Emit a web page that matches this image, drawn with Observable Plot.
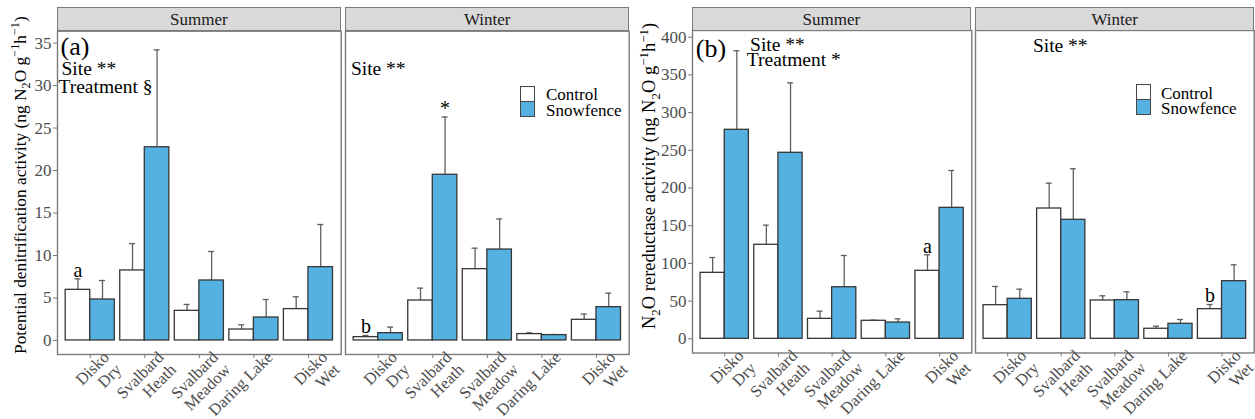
<!DOCTYPE html>
<html><head><meta charset="utf-8">
<script src="https://cdn.jsdelivr.net/npm/d3@7"></script>
<script src="https://cdn.jsdelivr.net/npm/@observablehq/plot@0.6"></script>
<style>
body{margin:0;background:#fff;}
#root{position:relative;width:1255px;height:419px;overflow:hidden;font-family:"Liberation Serif","Times New Roman",serif;}
#root svg{position:absolute;top:0;overflow:visible;}
.strip{position:absolute;background:#d9d9d9;border:1.3px solid #7a7a7a;box-sizing:border-box;text-align:center;font-size:17px;color:#1a1a1a;line-height:22px;padding-top:1px;}
.ytitle{position:absolute;white-space:nowrap;line-height:1;color:#000;transform-origin:0 0;transform:rotate(-90deg);}
.ytitle sub,.ytitle sup{font-size:70%;line-height:0;}
.lbox{position:absolute;width:15px;height:15.5px;box-sizing:border-box;border:1.2px solid #444;}
.ltext{position:absolute;font-size:17px;line-height:17px;white-space:nowrap;color:#000;}
</style></head><body><div id="root"></div><script>
// ---- categories ----
const sites = ["Disko Dry", "Svalbard Heath", "Svalbard Meadow", "Daring Lake", "Disko Wet"];
const siteLabels = ["Disko\nDry", "Svalbard\nHeath", "Svalbard\nMeadow", "Daring Lake", "Disko\nWet"];
const treatments = ["Control", "Snowfence"];
const treatmentColors = ["#ffffff", "#56b1e3"];
const seasons = ["Summer", "Winter"];

// ---- (a) Potential denitrification activity: mean and SE ----
const denitSummerControl = [5.96, 8.24, 3.49, 1.29, 3.69];
const denitSummerControlSE = [1.29, 3.16, 0.75, 0.55, 1.45];
const denitSummerSnow = [4.82, 22.74, 7.06, 2.70, 8.63];
const denitSummerSnowSE = [2.24, 11.46, 3.41, 2.12, 5.02];
const denitWinterControl = [0.39, 4.70, 8.39, 0.75, 2.43];
const denitWinterControlSE = [0.20, 1.46, 2.47, 0.15, 0.67];
const denitWinterSnow = [0.86, 19.50, 10.70, 0.63, 3.92];
const denitWinterSnowSE = [0.71, 6.80, 3.60, 0.07, 1.65];
const denitSummerControlSig = ["a", "", "", "", ""];
const denitSummerSnowSig = ["", "", "", "", ""];
const denitWinterControlSig = ["b", "", "", "", ""];
const denitWinterSnowSig = ["", "*", "", "", ""];
const denitTicks = [0, 5, 10, 15, 20, 25, 30, 35];

// ---- (b) N2O reductase activity: mean and SE ----
const redSummerControl = [87.5, 124.7, 26.5, 23.9, 90.2];
const redSummerControlSE = [20.3, 26.0, 10.1, 0.8, 21.2];
const redSummerSnow = [277.2, 246.7, 68.4, 21.6, 173.7];
const redSummerSnowSE = [104.8, 92.8, 42.1, 4.9, 49.5];
const redWinterControl = [44.6, 172.8, 50.8, 13.3, 39.3];
const redWinterControlSE = [24.8, 33.6, 6.2, 3.4, 6.2];
const redWinterSnow = [53.0, 157.8, 51.2, 19.9, 76.4];
const redWinterSnowSE = [12.8, 67.7, 11.1, 5.7, 21.7];
const redSummerControlSig = ["", "", "", "", "a"];
const redSummerSnowSig = ["", "", "", "", ""];
const redWinterControlSig = ["", "", "", "", "b"];
const redWinterSnowSig = ["", "", "", "", ""];
const redTicks = [0, 50, 100, 150, 200, 250, 300, 350, 400];

// ---- annotation texts ----
const annotA = {Summer: ["(a)", "Site **", "Treatment §"], Winter: ["Site **"]};
const annotB = {Summer: ["(b)", "Site **", "Treatment *"], Winter: ["Site **"]};
const titleA = 'Potential denitrification activity (ng N<sub>2</sub>O g<sup>−1</sup>h<sup>−1</sup>)';
const titleB = 'N<sub>2</sub>O rereductase activity (ng N<sub>2</sub>O g<sup>−1</sup>h<sup>−1</sup>)';

function buildRows(cm, cse, csig, sm, sse, ssig) {
  const rows = [];
  sites.forEach((s, i) => {
    rows.push({i, site: s, treatment: treatments[0], mean: cm[i], se: cse[i], sig: csig[i]});
    rows.push({i, site: s, treatment: treatments[1], mean: sm[i], se: sse[i], sig: ssig[i]});
  });
  return rows;
}

const dodge = {Control: -0.225, Snowfence: 0.225};
const cx = d => d.i + dodge[d.treatment];
const errTop = d => d.mean + d.se;
const labelColor = "#4d4d4d";
const frameColor = "#7a7a7a";

function panel(cfg) {
  const rows = cfg.rows;
  const marks = [
    Plot.ruleX(rows, {x: cx, y1: "mean", y2: errTop, stroke: "#5f5f5f", strokeWidth: 1.3}),
    Plot.ruleY(rows, {y: errTop, x1: d => cx(d) - 0.055, x2: d => cx(d) + 0.055, stroke: "#5f5f5f", strokeWidth: 1.3}),
    Plot.rectY(rows, {x1: d => cx(d) - 0.225, x2: d => cx(d) + 0.225, y1: 0, y2: "mean", fill: "treatment", stroke: "#363636", strokeWidth: 1.3}),
    Plot.text(rows.filter(d => d.sig), {x: cx, y: errTop, text: "sig", lineAnchor: "bottom", dy: -2, fontSize: 20, fill: "#000"}),
    Plot.frame({stroke: frameColor, strokeWidth: 1.4}),
    Plot.axisX({ticks: d3.range(sites.length), tickSize: 4, tickFormat: () => "", stroke: frameColor, label: null}),
    Plot.text(d3.range(sites.length), {x: d => d, text: d => siteLabels[d], frameAnchor: "bottom", rotate: -45, textAnchor: "end", lineAnchor: "top", lineHeight: 1.06, fontSize: 16.5, fill: labelColor, dx: 11, dy: -5})
  ];
  if (cfg.showY) {
    marks.push(Plot.axisY({ticks: cfg.ticks, tickSize: 4, tickPadding: 2, fontSize: 17, fill: labelColor, stroke: frameColor, label: null}));
  }
  cfg.annots.forEach(a => marks.push(Plot.text([a.text], {text: d => d, frameAnchor: "top-left", textAnchor: "start", lineAnchor: "bottom", dx: a.dx, dy: a.dy, fontSize: a.size, fill: "#000"})));
  const svg = Plot.plot({
    width: cfg.mL + cfg.w + cfg.mR,
    height: 419,
    marginLeft: cfg.mL, marginRight: cfg.mR, marginTop: cfg.mT, marginBottom: cfg.mB,
    x: {type: "linear", domain: [-0.6, sites.length - 0.4]},
    y: {domain: cfg.yDomain, axis: cfg.showY ? undefined : null},
    color: {domain: treatments, range: treatmentColors},
    style: {fontFamily: '"Liberation Serif","Times New Roman",serif', fontSize: "17px", background: "transparent", overflow: "visible"},
    marks
  });
  svg.style.left = (cfg.left - cfg.mL) + "px";
  return svg;
}

const root = document.getElementById("root");
function addStrip(text, left, width) {
  const d = document.createElement("div");
  d.className = "strip";
  d.style.left = left + "px"; d.style.top = "6.7px"; d.style.width = width + "px"; d.style.height = "24.6px";
  d.textContent = text;
  root.appendChild(d);
}
function addLegend(boxLeft, boxTop, textLeft, textTops) {
  treatments.forEach((t, k) => {
    const b = document.createElement("div");
    b.className = "lbox";
    b.style.left = boxLeft + "px"; b.style.top = (boxTop + k * 15.3) + "px";
    b.style.background = treatmentColors[k];
    root.appendChild(b);
    const s = document.createElement("div");
    s.className = "ltext";
    s.style.left = textLeft + "px"; s.style.top = textTops[k] + "px";
    s.textContent = t;
    root.appendChild(s);
  });
}
// title runs upward from (left, bottom)
function addTitle(html, left, bottom, size) {
  const d = document.createElement("div");
  d.className = "ytitle";
  d.style.left = left + "px"; d.style.top = bottom + "px"; d.style.fontSize = size + "px";
  d.innerHTML = html;
  root.appendChild(d);
}

// ---- panel (a) ----
const aDomain = [-1.65, 36.4];
root.appendChild(panel({
  rows: buildRows(denitSummerControl, denitSummerControlSE, denitSummerControlSig, denitSummerSnow, denitSummerSnowSE, denitSummerSnowSig),
  left: 57, w: 283.7, mL: 57, mR: 2, mT: 30.7, mB: 65, yDomain: aDomain, ticks: denitTicks, showY: true,
  annots: [
    {text: annotA.Summer[0], dx: 3, dy: 23.5, size: 26},
    {text: annotA.Summer[1], dx: 4, dy: 44.3, size: 19.5},
    {text: annotA.Summer[2], dx: 1, dy: 62, size: 19.5}
  ]
}));
root.appendChild(panel({
  rows: buildRows(denitWinterControl, denitWinterControlSE, denitWinterControlSig, denitWinterSnow, denitWinterSnowSE, denitWinterSnowSig),
  left: 345.3, w: 283.7, mL: 2, mR: 2, mT: 30.7, mB: 65, yDomain: aDomain, ticks: denitTicks, showY: false,
  annots: [{text: annotA.Winter[0], dx: 5.4, dy: 44.3, size: 19.5}]
}));
addStrip(seasons[0], 57, 283.7);
addStrip(seasons[1], 345.3, 283.7);
addLegend(520, 86, 546, [85.8, 101.5]);
addTitle(titleA, 12.3, 354, 17.4);

// ---- panel (b) ----
const bDomain = [-18.8, 408.9];
root.appendChild(panel({
  rows: buildRows(redSummerControl, redSummerControlSE, redSummerControlSig, redSummerSnow, redSummerSnowSE, redSummerSnowSig),
  left: 691.7, w: 279.3, mL: 52, mR: 2, mT: 30, mB: 66.5, yDomain: bDomain, ticks: redTicks, showY: true,
  annots: [
    {text: annotB.Summer[0], dx: 3.3, dy: 27, size: 26},
    {text: annotB.Summer[1], dx: 57.6, dy: 20.7, size: 19.5},
    {text: annotB.Summer[2], dx: 54.3, dy: 36, size: 19.5}
  ]
}));
root.appendChild(panel({
  rows: buildRows(redWinterControl, redWinterControlSE, redWinterControlSig, redWinterSnow, redWinterSnowSE, redWinterSnowSig),
  left: 975.3, w: 278.7, mL: 2, mR: 1, mT: 30, mB: 66.5, yDomain: bDomain, ticks: redTicks, showY: false,
  annots: [{text: annotB.Winter[0], dx: 57.4, dy: 21.7, size: 19.5}]
}));
addStrip(seasons[0], 691.7, 279.3);
addStrip(seasons[1], 975.3, 278.7);
addLegend(1135.7, 84, 1161, [84.5, 100.1]);
addTitle(titleB, 640, 329, 18.5);
</script></body></html>
